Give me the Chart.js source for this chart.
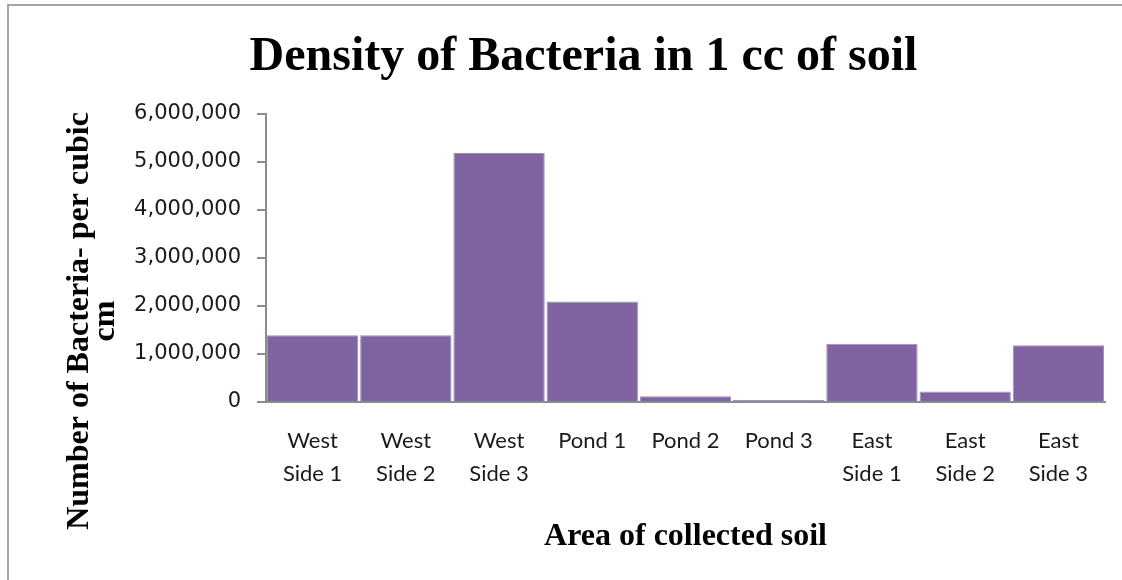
<!DOCTYPE html>
<html>
<head>
<meta charset="utf-8">
<script src="https://cdn.jsdelivr.net/npm/chart.js@4"></script>
<style>
  body { margin: 0; background: #fff; }
  #frame { position: absolute; left: 7px; top: 4px; width: 1200px; height: 700px; border: 2px solid #a6a6a6; }
  #wrap { position: absolute; left: 0; top: 0; width: 1122px; height: 580px; }
</style>
</head>
<body>
<div id="frame"></div>
<div id="wrap"><canvas id="myChart" width="1122" height="580"></canvas></div>
<script>
var areas = [['West', 'Side 1'], ['West', 'Side 2'], ['West', 'Side 3'], 'Pond 1', 'Pond 2', 'Pond 3', ['East', 'Side 1'], ['East', 'Side 2'], ['East', 'Side 3']];
var bacteria = [1390000, 1390000, 5180000, 2090000, 120000, 40000, 1210000, 220000, 1180000];
var yTicks = [0, 1000000, 2000000, 3000000, 4000000, 5000000, 6000000];
var yTitle = ['Number of Bacteria- per cubic', 'cm'];

var serif = "'Liberation Serif', 'Times New Roman', serif";

// y title sits lower than the plot centre in the original, so draw it by hand
var yTitlePlugin = {
  id: 'yTitle',
  afterDraw: function (chart) {
    var c = chart.ctx;
    c.save();
    c.translate(93, 321);
    c.rotate(-Math.PI / 2);
    c.fillStyle = '#000';
    c.font = 'bold 32px ' + serif;
    c.textAlign = 'center';
    c.textBaseline = 'middle';
    c.fillText(yTitle[0], 0, -13);
    c.fillText(yTitle[1], 0, 13);
    c.restore();
  }
};

var ctx = document.getElementById('myChart').getContext('2d');
var myChart = new Chart(ctx, {
  type: 'bar',
  data: {
    labels: areas,
    datasets: [{
      label: 'Bacteria',
      data: bacteria,
      backgroundColor: '#8064a2',
      borderColor: '#a08cbc',
      borderWidth: 1,
      barPercentage: 0.98,
      categoryPercentage: 1
    }]
  },
  options: {
    responsive: false,
    animation: false,
    layout: { padding: { left: 62, right: 17, top: 10, bottom: 18 } },
    plugins: {
      legend: { display: false },
      tooltip: { enabled: false },
      title: {
        display: true,
        text: 'Density of Bacteria in 1 cc of soil',
        color: '#000',
        font: { family: serif, size: 48, weight: 'bold', lineHeight: 1.2 },
        padding: { top: 19, bottom: 27 }
      }
    },
    scales: {
      x: {
        grid: { display: false, drawTicks: false },
        border: { color: '#8c8c8c', width: 2 },
        ticks: {
          color: '#1a1a1a',
          font: { family: 'Lato', size: 22, lineHeight: 1.5 },
          padding: 22,
          maxRotation: 0,
          autoSkip: false
        },
        title: {
          display: true,
          text: 'Area of collected soil',
          color: '#000',
          font: { family: serif, size: 32, weight: 'bold', lineHeight: 1.2 },
          padding: { top: 0, bottom: 6 }
        },
        afterFit: function (scale) { scale.height = 160; }
      },
      y: {
        min: 0,
        max: 6000000,
        afterBuildTicks: function (scale) {
          scale.ticks = yTicks.map(function (v) { return { value: v }; });
        },
        grid: { drawOnChartArea: false, drawTicks: true, tickLength: 9, color: '#8c8c8c', lineWidth: 2 },
        border: { color: '#8c8c8c', width: 2 },
        ticks: {
          color: '#1a1a1a',
          font: { family: 'DejaVu Sans', size: 21 },
          padding: 16,
          callback: function (v) { return v.toLocaleString('en-US'); }
        },
        title: { display: false },
        afterFit: function (scale) { scale.width = 204; }
      }
    }
  },
  plugins: [yTitlePlugin]
});
</script>
</body>
</html>
